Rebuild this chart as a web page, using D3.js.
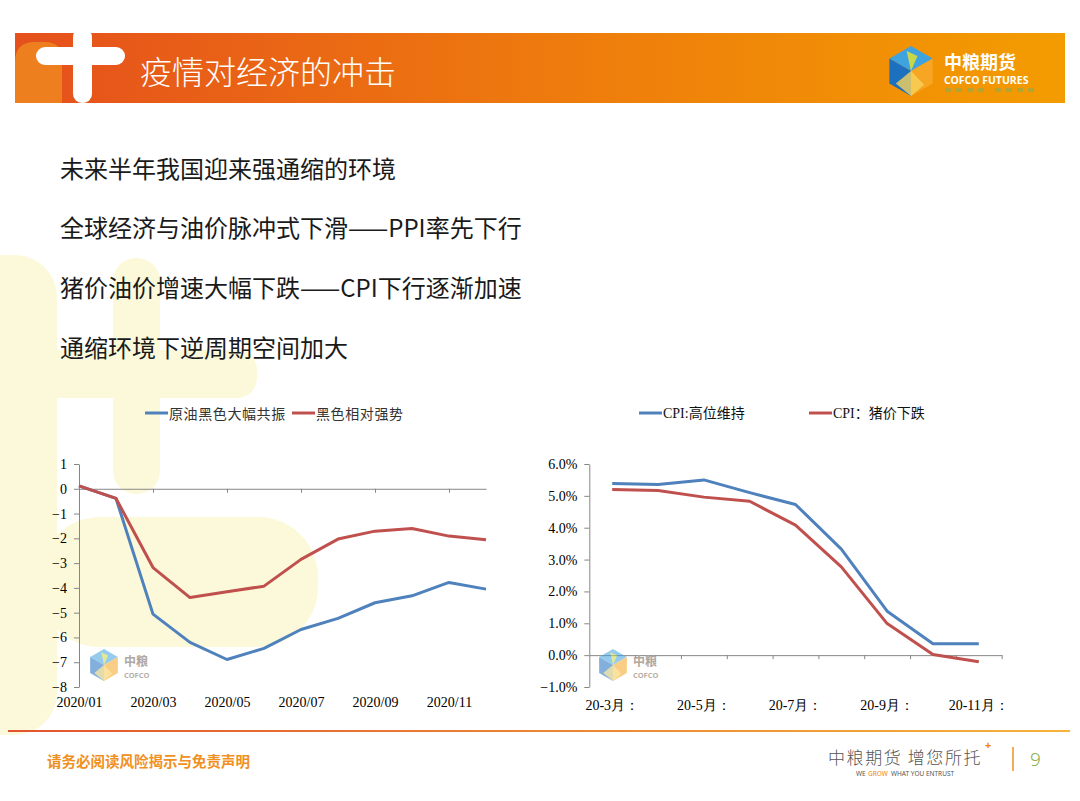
<!DOCTYPE html>
<html><head><meta charset="utf-8">
<script src="https://cdn.jsdelivr.net/npm/d3@7"></script>
<style>body{margin:0;background:#fff}svg{display:block}</style>
</head><body>
<script>
// ---------- data ----------
const leftMonths = ["2020/01","2020/02","2020/03","2020/04","2020/05","2020/06","2020/07","2020/08","2020/09","2020/10","2020/11","2020/12"];
const leftOilBlack = [0.12,-0.39,-5.06,-6.2,-6.89,-6.44,-5.68,-5.23,-4.6,-4.32,-3.78,-4.05];
const leftBlackStrong = [0.12,-0.39,-3.18,-4.39,-4.16,-3.93,-2.85,-2.03,-1.71,-1.6,-1.91,-2.06];
const leftYTicks = [1,0,-1,-2,-3,-4,-5,-6,-7,-8];
const leftXLabels = ["2020/01","2020/03","2020/05","2020/07","2020/09","2020/11"];
const leftSeriesNames = ["原油黑色大幅共振","黑色相对强势"];

const rightMonths = ["20-3月：","20-4月：","20-5月：","20-6月：","20-7月：","20-8月：","20-9月：","20-10月：","20-11月："];
const cpiHigh = [5.39,5.36,5.50,5.10,4.73,3.33,1.38,0.36,0.36];
const cpiPork = [5.20,5.17,4.96,4.83,4.08,2.77,0.99,0.02,-0.21];
const rightYTicks = [6,5,4,3,2,1,0,-1];
const rightXLabels = ["20-3月：","20-5月：","20-7月：","20-9月：","20-11月："];
const rightSeriesNames = ["CPI:高位维持","CPI：猪价下跌"];

const title = "疫情对经济的冲击";
const bullets = ["未来半年我国迎来强通缩的环境","全球经济与油价脉冲式下滑——PPI率先下行","猪价油价增速大幅下跌——CPI下行逐渐加速","通缩环境下逆周期空间加大"];

// ---------- drawing ----------
const W = 1080, H = 801;
const CJK = "'Noto Sans CJK SC', sans-serif";
const SERIF = "'Liberation Serif', 'Times New Roman', serif";
const BLUE = "#4F81BD", RED = "#C0504D", AX = "#868686";

const svg = d3.select("body").append("svg").attr("width", W).attr("height", H);
const defs = svg.append("defs");

const hg = defs.append("linearGradient").attr("id","hdr").attr("x1","0").attr("x2","1");
hg.append("stop").attr("offset","0").attr("stop-color","#E5501C");
hg.append("stop").attr("offset","0.5").attr("stop-color","#EE7A0E");
hg.append("stop").attr("offset","1").attr("stop-color","#F39C00");
const fg = defs.append("linearGradient").attr("id","ftr").attr("x1","0").attr("x2","1");
fg.append("stop").attr("offset","0").attr("stop-color","#E2552E");
fg.append("stop").attr("offset","1").attr("stop-color","#F5B33A");

// watermark shapes
const wm = svg.append("g").attr("fill","#FCF9DA");
wm.append("rect").attr("x",-45).attr("y",255).attr("width",102).attr("height",480).attr("rx",42);
wm.append("rect").attr("x",113).attr("y",258).attr("width",47).attr("height",236).attr("rx",23);
wm.append("rect").attr("x",-20).attr("y",350).attr("width",277).attr("height",48).attr("rx",20);
wm.append("rect").attr("x",40).attr("y",517).attr("width",278).attr("height",130).attr("rx",60);

// header
svg.append("rect").attr("x",15).attr("y",33).attr("width",1050).attr("height",70).attr("fill","url(#hdr)");
svg.append("path").attr("d","M15,103 V62 Q15,42 35,42 H45 Q62,42 62,60 V103 Z").attr("fill","#F0871E").attr("opacity",0.85);
const cross = svg.append("g").attr("fill","#fff");
cross.append("rect").attr("x",73).attr("y",28).attr("width",19).attr("height",75).attr("rx",9);
cross.append("rect").attr("x",36).attr("y",47).attr("width",89).attr("height",18).attr("rx",9);
svg.append("text").attr("x",140).attr("y",70).attr("dominant-baseline","central")
  .attr("font-family",CJK).attr("font-size",32).attr("font-weight",300).attr("fill","#fff").text(title);

function cube(g, cx, cy, r, op){
  const s = r*0.866;
  const gg = g.append("g").attr("opacity",op);
  gg.append("path").attr("d",`M${cx},${cy} L${cx-s},${cy-r/2} L${cx},${cy-r} L${cx+s},${cy-r/2} Z`).attr("fill","#3FA3E0");
  gg.append("path").attr("d",`M${cx},${cy} L${cx-s},${cy-r/2} L${cx-s},${cy+r/2} L${cx},${cy+r} Z`).attr("fill","#1D6FC0");
  gg.append("path").attr("d",`M${cx},${cy} L${cx+s},${cy-r/2} L${cx+s},${cy+r/2} L${cx},${cy+r} Z`).attr("fill","#F6A623");
  gg.append("path").attr("d",`M${cx},${cy} L${cx-s*0.2},${cy-r*0.8} L${cx+s*0.3},${cy-r*0.6} Z`).attr("fill","#C8D84A");
  gg.append("path").attr("d",`M${cx},${cy} L${cx-s*0.7},${cy+r*0.5} L${cx},${cy+r} L${cx+s*0.6},${cy+r*0.55} Z`).attr("fill","#F8D35A").attr("opacity",0.8);
}
cube(svg, 911, 71, 25, 1);
svg.append("text").attr("x",944).attr("y",61).attr("dominant-baseline","central").attr("font-family",CJK)
  .attr("font-weight",700).attr("font-size",18).attr("fill","#fff").text("中粮期货");
svg.append("text").attr("x",944).attr("y",80).attr("dominant-baseline","central").attr("font-family","'Noto Sans', sans-serif")
  .attr("font-weight",700).attr("font-size",10.5).attr("fill","#fff").text("COFCO FUTURES");
svg.append("g").selectAll("rect").data(d3.range(8)).join("rect")
  .attr("x",d=>945+d*11+(d>3?6:0)).attr("y",88).attr("width",6).attr("height",4).attr("fill","#9BA74A").attr("opacity",0.7);

// bullets
svg.append("g").selectAll("text").data(bullets).join("text")
  .attr("x",60).attr("y",(d,i)=>167+i*59.7).attr("dominant-baseline","central")
  .attr("font-family",CJK).attr("font-size",24).attr("fill","#1a1a1a").text(d=>d);

// small watermark logos in charts
function miniLogo(x, y){
  cube(svg, x, y, 16, 0.55);
  svg.append("text").attr("x",x+20).attr("y",y-5).attr("dominant-baseline","central").attr("font-family",CJK)
    .attr("font-weight",700).attr("font-size",12).attr("fill","#B0A8A0").text("中粮");
  svg.append("text").attr("x",x+20).attr("y",y+10).attr("dominant-baseline","central").attr("font-family","'Noto Sans', sans-serif")
    .attr("font-weight",700).attr("font-size",7.5).attr("fill","#B8B0A8").text("COFCO");
}

// ---------- left chart ----------
const xL = d3.scalePoint().domain(leftMonths).range([79, 486]);
const yL = d3.scaleLinear().domain([-8, 1]).range([687, 464]);
const gL = svg.append("g");
miniLogo(104, 665);

const yAxL = gL.append("g").attr("transform",`translate(79,0)`)
  .call(d3.axisLeft(yL).tickValues(leftYTicks).tickFormat(d3.format("d")).tickSize(5).tickSizeOuter(0).tickPadding(7));
const zeroL = gL.append("g").attr("transform",`translate(0,${yL(0)})`)
  .call(d3.axisBottom(xL).tickValues(leftMonths.filter((d,i)=>i%2===0 && i>0)).tickFormat("").tickSize(4).tickSizeOuter(0));
const xLabL = gL.append("g").attr("transform",`translate(0,697)`)
  .call(d3.axisBottom(xL).tickValues(leftXLabels).tickSize(0).tickPadding(0));
xLabL.select(".domain").remove();

[yAxL, zeroL, xLabL].forEach(a=>{
  a.selectAll(".domain, line").attr("stroke",AX);
  a.selectAll("text").attr("font-family",SERIF).attr("font-size",14).attr("fill","#000");
});

const lineL = d3.line().x((d,i)=>xL(leftMonths[i])).y(d=>yL(d));
gL.append("path").datum(leftOilBlack).attr("d",lineL).attr("fill","none").attr("stroke",BLUE).attr("stroke-width",3).attr("stroke-linejoin","round");
gL.append("path").datum(leftBlackStrong).attr("d",lineL).attr("fill","none").attr("stroke",RED).attr("stroke-width",3).attr("stroke-linejoin","round");

// left legend
const legL = [{x:145,c:BLUE,t:leftSeriesNames[0]},{x:292,c:RED,t:leftSeriesNames[1]}];
legL.forEach(l=>{
  svg.append("line").attr("x1",l.x).attr("x2",l.x+23).attr("y1",413).attr("y2",413).attr("stroke",l.c).attr("stroke-width",3);
  svg.append("text").attr("x",l.x+24).attr("y",413).attr("dominant-baseline","central").attr("font-family",CJK)
    .attr("font-size",14).attr("letter-spacing",0.6).attr("fill","#333").text(l.t);
});

// ---------- right chart ----------
const xR = d3.scaleBand().domain(rightMonths).range([589.3, 1001.7]);
const xRb = d3.scaleLinear().domain([0, rightMonths.length]).range([589.3, 1001.7]);
const yR = d3.scaleLinear().domain([-1, 6]).range([687, 464]);
const gR = svg.append("g");
miniLogo(613, 665);

const yAxR = gR.append("g").attr("transform",`translate(589.3,0)`)
  .call(d3.axisLeft(yR).tickValues(rightYTicks).tickFormat(d=>d3.format(".1f")(d)+"%").tickSize(5).tickSizeOuter(0).tickPadding(7));
const zeroR = gR.append("g").attr("transform",`translate(0,${yR(0)})`)
  .call(d3.axisBottom(xRb).tickValues(d3.range(1, rightMonths.length+1)).tickFormat("").tickSize(4).tickSizeOuter(0));
const xLabR = gR.append("g").attr("transform",`translate(0,700)`)
  .call(d3.axisBottom(xR).tickValues(rightXLabels).tickSize(0).tickPadding(0));
xLabR.select(".domain").remove();

[yAxR, zeroR, xLabR].forEach(a=>{
  a.selectAll(".domain, line").attr("stroke",AX);
  a.selectAll("text").attr("font-family",SERIF).attr("font-size",14).attr("fill","#000");
});

const lineR = d3.line().x((d,i)=>xR(rightMonths[i]) + xR.bandwidth()/2).y(d=>yR(d));
gR.append("path").datum(cpiHigh).attr("d",lineR).attr("fill","none").attr("stroke",BLUE).attr("stroke-width",3).attr("stroke-linejoin","round");
gR.append("path").datum(cpiPork).attr("d",lineR).attr("fill","none").attr("stroke",RED).attr("stroke-width",3).attr("stroke-linejoin","round");

const legR = [{x:639,c:BLUE,t:rightSeriesNames[0]},{x:809,c:RED,t:rightSeriesNames[1]}];
legR.forEach(l=>{
  svg.append("line").attr("x1",l.x).attr("x2",l.x+23).attr("y1",413).attr("y2",413).attr("stroke",l.c).attr("stroke-width",3);
  svg.append("text").attr("x",l.x+24).attr("y",413).attr("dominant-baseline","central").attr("font-family",SERIF+", "+CJK)
    .attr("font-size",14).attr("fill","#111").text(l.t);
});

// ---------- footer ----------
svg.append("rect").attr("x",8).attr("y",730).attr("width",1062).attr("height",2).attr("fill","url(#ftr)");
svg.append("text").attr("x",47).attr("y",760).attr("dominant-baseline","central").attr("font-family",CJK)
  .attr("font-weight",700).attr("font-size",14.5).attr("fill","#F0901E").text("请务必阅读风险揭示与免责声明");
svg.append("text").attr("x",828).attr("y",756).attr("dominant-baseline","central").attr("font-family",CJK)
  .attr("font-weight",300).attr("font-size",17).attr("letter-spacing",1.6).attr("fill","#555").text("中粮期货 增您所托");
svg.append("text").attr("x",985).attr("y",744).attr("dominant-baseline","central").attr("font-family","'Noto Sans', sans-serif")
  .attr("font-weight",700).attr("font-size",11).attr("fill","#F08300").text("+");
const tagParts = [{t:"WE",x:856,c:"#555"},{t:"GROW",x:868,c:"#F08300"},{t:"WHAT YOU ENTRUST",x:891,c:"#555"}];
svg.append("g").selectAll("text").data(tagParts).join("text")
  .attr("x",d=>d.x).attr("y",773).attr("dominant-baseline","central").attr("font-family","'Noto Sans', sans-serif")
  .attr("font-size",6.5).attr("fill",d=>d.c).text(d=>d.t);
svg.append("line").attr("x1",1013).attr("x2",1013).attr("y1",747).attr("y2",771).attr("stroke","#F0901E").attr("stroke-width",1.5);
svg.append("text").attr("x",1030).attr("y",759).attr("dominant-baseline","central").attr("font-family","'Noto Sans', sans-serif")
  .attr("font-weight",300).attr("font-size",19).attr("fill","#8DB04F").text("9");
</script>
</body></html>
